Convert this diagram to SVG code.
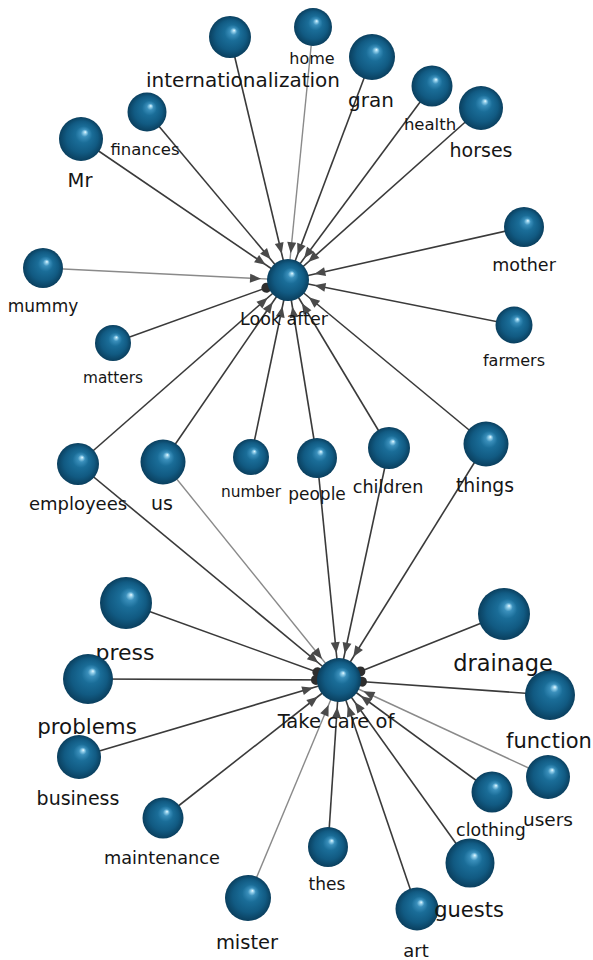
<svg xmlns="http://www.w3.org/2000/svg" width="593" height="960" viewBox="0 0 593 960">
<style>
.ball{fill:url(#ball)}
.lbl{font-family:"DejaVu Sans",Verdana,sans-serif;fill:#151515;text-anchor:middle}
.e{stroke:#3a3a3a;stroke-width:1.6;fill:none;marker-end:url(#arr)}
.l{stroke:#8a8a8a;stroke-width:1.4;fill:none;marker-end:url(#arr)}
.d{stroke:#3a3a3a;stroke-width:1.6;fill:none;marker-end:url(#dot)}
</style>
<defs>
<radialGradient id="ball" cx="0.5" cy="0.5" r="0.5" fx="0.6" fy="0.34">
<stop offset="0" stop-color="#f0fbff"/>
<stop offset="0.06" stop-color="#9ad4ee"/>
<stop offset="0.17" stop-color="#3a8fbb"/>
<stop offset="0.38" stop-color="#1a6d98"/>
<stop offset="0.72" stop-color="#115a82"/>
<stop offset="1" stop-color="#0a3f5e"/>
</radialGradient>
<marker id="arr" markerUnits="userSpaceOnUse" markerWidth="12" markerHeight="10" refX="0" refY="0" orient="auto" overflow="visible">
<path d="M-27,0 L-38,-4.5 L-38,4.5 Z" fill="#4a4a4a"/>
</marker>
<marker id="dot" markerUnits="userSpaceOnUse" markerWidth="10" markerHeight="10" refX="0" refY="0" orient="auto" overflow="visible">
<circle cx="-23" cy="0" r="5" fill="#2e2e2e"/>
</marker>
</defs>
<rect width="593" height="960" fill="#ffffff"/>
<g id="connectors">
<path class="e" d="M230,37 L288,280"/>
<path class="l" d="M313,27 L288,280"/>
<path class="e" d="M372,57 L288,280"/>
<path class="e" d="M432,86 L288,280"/>
<path class="e" d="M481,108 L288,280"/>
<path class="e" d="M147,112 L288,280"/>
<path class="e" d="M81,139 L288,280"/>
<path class="l" d="M43,268 L288,280"/>
<path class="d" d="M113,343 L288,280"/>
<path class="e" d="M524,227 L288,280"/>
<path class="e" d="M514,325 L288,280"/>
<path class="e" d="M78,464 L288,280"/>
<path class="e" d="M163,462 L288,280"/>
<path class="e" d="M251,457 L288,280"/>
<path class="e" d="M317,458 L288,280"/>
<path class="e" d="M389,448 L288,280"/>
<path class="e" d="M486,444 L288,280"/>
<path class="e" d="M78,464 L339,680"/>
<path class="l" d="M163,462 L339,680"/>
<path class="e" d="M317,458 L339,680"/>
<path class="e" d="M389,448 L339,680"/>
<path class="e" d="M486,444 L339,680"/>
<path class="d" d="M126,603 L339,680"/>
<path class="d" d="M88,679 L339,680"/>
<path class="e" d="M79,757 L339,680"/>
<path class="e" d="M163,818 L339,680"/>
<path class="l" d="M248,898 L339,680"/>
<path class="e" d="M328,847 L339,680"/>
<path class="e" d="M417,909 L339,680"/>
<path class="e" d="M470,863 L339,680"/>
<path class="e" d="M492,792 L339,680"/>
<path class="l" d="M548,777 L339,680"/>
<path class="d" d="M550,695 L339,680"/>
<path class="d" d="M504,614 L339,680"/>
</g>
<g id="look-after"><circle class="ball" cx="288" cy="280" r="21"/><text class="lbl" x="284" y="325" font-size="17.5">Look after</text></g>
<g id="take-care-of"><circle class="ball" cx="339" cy="680" r="22"/><text class="lbl" x="336" y="728" font-size="19.5">Take care of</text></g>
<g id="internationalization"><circle class="ball" cx="230" cy="37" r="21"/><text class="lbl" x="243" y="87" font-size="20">internationalization</text></g>
<g id="home"><circle class="ball" cx="313" cy="27" r="19"/><text class="lbl" x="312" y="63.5" font-size="16">home</text></g>
<g id="gran"><circle class="ball" cx="372" cy="57" r="23"/><text class="lbl" x="371" y="107" font-size="20">gran</text></g>
<g id="health"><circle class="ball" cx="432" cy="86" r="20.5"/><text class="lbl" x="430" y="130" font-size="16.5">health</text></g>
<g id="horses"><circle class="ball" cx="481" cy="108" r="22"/><text class="lbl" x="481" y="157" font-size="19">horses</text></g>
<g id="finances"><circle class="ball" cx="147" cy="112" r="19.5"/><text class="lbl" x="145" y="155" font-size="16.5">finances</text></g>
<g id="mr"><circle class="ball" cx="81" cy="139" r="22"/><text class="lbl" x="80" y="187" font-size="19.5">Mr</text></g>
<g id="mummy"><circle class="ball" cx="43" cy="268" r="20"/><text class="lbl" x="43" y="312" font-size="17">mummy</text></g>
<g id="matters"><circle class="ball" cx="113" cy="343" r="18"/><text class="lbl" x="113" y="383" font-size="15.3">matters</text></g>
<g id="mother"><circle class="ball" cx="524" cy="227" r="20"/><text class="lbl" x="524" y="271" font-size="17.5">mother</text></g>
<g id="farmers"><circle class="ball" cx="514" cy="325" r="18.5"/><text class="lbl" x="514" y="366" font-size="16">farmers</text></g>
<g id="employees"><circle class="ball" cx="78" cy="464" r="21"/><text class="lbl" x="78" y="510" font-size="18">employees</text></g>
<g id="us"><circle class="ball" cx="163" cy="462" r="22.5"/><text class="lbl" x="162" y="510" font-size="19">us</text></g>
<g id="number"><circle class="ball" cx="251" cy="457" r="18"/><text class="lbl" x="251" y="497" font-size="15.4">number</text></g>
<g id="people"><circle class="ball" cx="317" cy="458" r="20"/><text class="lbl" x="317" y="500" font-size="17">people</text></g>
<g id="children"><circle class="ball" cx="389" cy="448" r="21"/><text class="lbl" x="388" y="493" font-size="17.6">children</text></g>
<g id="things"><circle class="ball" cx="486" cy="444" r="22.5"/><text class="lbl" x="485" y="492" font-size="18.8">things</text></g>
<g id="press"><circle class="ball" cx="126" cy="603" r="26"/><text class="lbl" x="125" y="660" font-size="22">press</text></g>
<g id="problems"><circle class="ball" cx="88" cy="679" r="25"/><text class="lbl" x="87" y="734" font-size="21.4">problems</text></g>
<g id="business"><circle class="ball" cx="79" cy="757" r="22"/><text class="lbl" x="78" y="805" font-size="19">business</text></g>
<g id="maintenance"><circle class="ball" cx="163" cy="818" r="20.5"/><text class="lbl" x="162" y="864" font-size="17.7">maintenance</text></g>
<g id="mister"><circle class="ball" cx="248" cy="898" r="23"/><text class="lbl" x="247" y="949" font-size="19.5">mister</text></g>
<g id="thes"><circle class="ball" cx="328" cy="847" r="20"/><text class="lbl" x="327" y="890" font-size="17">thes</text></g>
<g id="art"><circle class="ball" cx="417" cy="909" r="21.5"/><text class="lbl" x="416" y="957" font-size="18">art</text></g>
<g id="guests"><circle class="ball" cx="470" cy="863" r="24.5"/><text class="lbl" x="469" y="917" font-size="21">guests</text></g>
<g id="clothing"><circle class="ball" cx="492" cy="792" r="20.5"/><text class="lbl" x="491" y="836" font-size="17.4">clothing</text></g>
<g id="users"><circle class="ball" cx="548" cy="777" r="22"/><text class="lbl" x="548" y="826" font-size="18.5">users</text></g>
<g id="function"><circle class="ball" cx="550" cy="695" r="25"/><text class="lbl" x="549" y="748" font-size="21">function</text></g>
<g id="drainage"><circle class="ball" cx="504" cy="614" r="26"/><text class="lbl" x="503" y="671" font-size="22.5">drainage</text></g>
</svg>
